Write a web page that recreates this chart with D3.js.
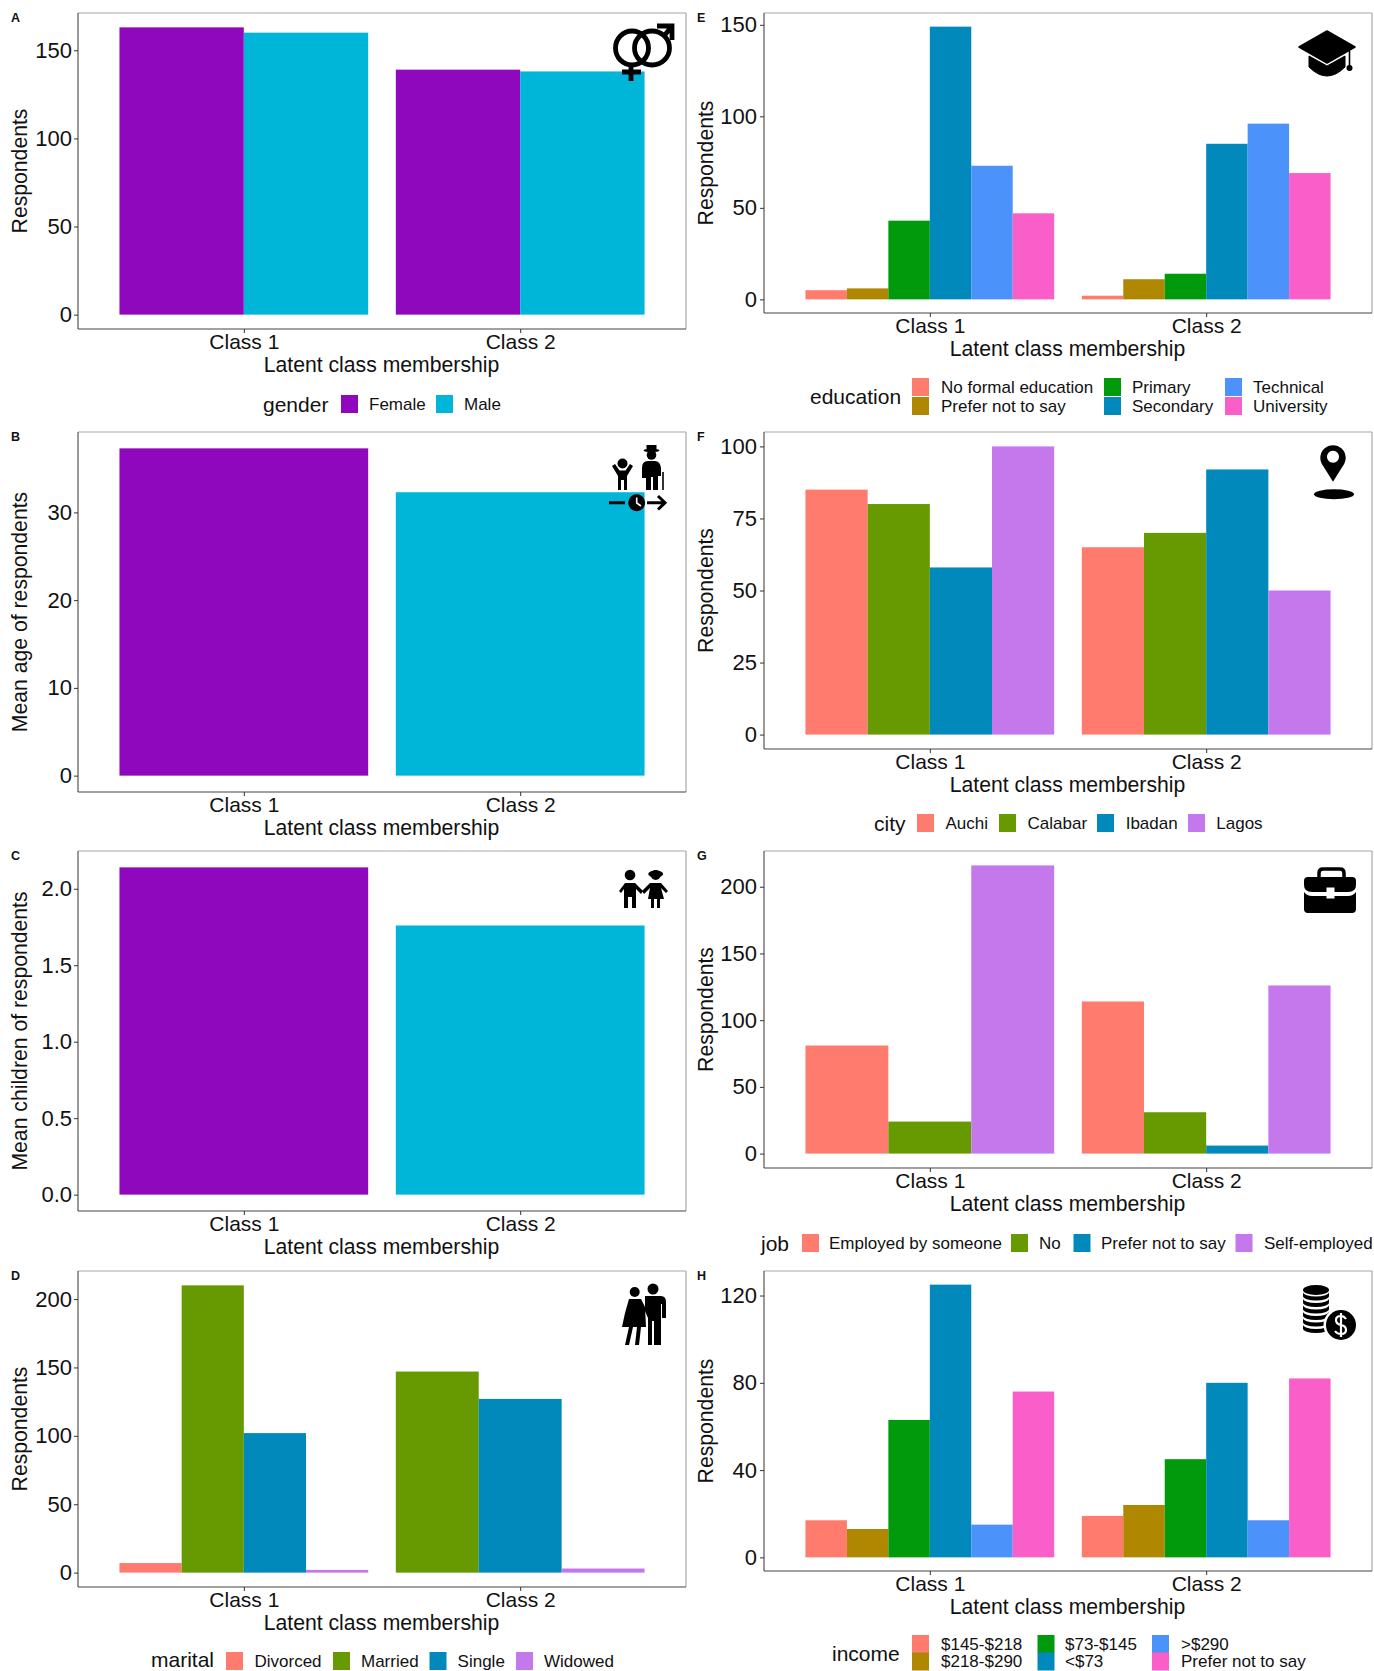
<!DOCTYPE html>
<html>
<head>
<meta charset="utf-8">
<script src="https://cdn.jsdelivr.net/npm/d3@7"></script>
<style>
  html, body { margin: 0; padding: 0; background: #fff; }
  svg { display: block; }
  text { font-family: "Liberation Sans", Arial, sans-serif; fill: #111; }
</style>
</head>
<body>
<div id="chart"></div>
<script>
const classes = ['Class 1', 'Class 2']

// two classes per category, null means the bar is not there at all
const genderCats = ['Female', 'Male']
const genderVals = [[163, 139], [160, 138]]

const ageCats = ['Class 1', 'Class 2']
const ageVals = [[37.3, null], [null, 32.3]]

const childCats = ['Class 1', 'Class 2']
const childVals = [[2.14, null], [null, 1.76]]

const maritalCats = ['Divorced', 'Married', 'Single', 'Widowed']
const maritalVals = [[7, null], [210, 147], [102, 127], [2, 3]]

const eduCats = ['No formal education', 'Prefer not to say', 'Primary', 'Secondary', 'Technical', 'University']
const eduVals = [[5, 2], [6, 11], [43, 14], [149, 85], [73, 96], [47, 69]]

const cityCats = ['Auchi', 'Calabar', 'Ibadan', 'Lagos']
const cityVals = [[85, 65], [80, 70], [58, 92], [100, 50]]

const jobCats = ['Employed by someone', 'No', 'Prefer not to say', 'Self-employed']
const jobVals = [[81, 114], [24, 31], [null, 6], [216, 126]]

const incomeCats = ['$145-$218', '$218-$290', '$73-$145', '<$73', '>$290', 'Prefer not to say']
const incomeVals = [[17, 19], [13, 24], [63, 45], [125, 80], [15, 17], [76, 82]]

const twoColors = ['#9008BE', '#00B6D8']
const fourColors = ['#FF7B6E', '#679900', '#0089BA', '#C478EC']
const sixColors = ['#FF7B6E', '#B08700', '#009A0C', '#0089BA', '#4C92FB', '#F95EC9']

const leftCol = [78, 686]
const rightCol = [764, 1372]

const panels = [
  { tag: 'A', col: leftCol, top: 13, bottom: 329, cats: genderCats, vals: genderVals, colors: twoColors,
    ticks: [0, 50, 100, 150], ylab: 'Respondents', icon: drawGender,
    legend: { title: 'gender', tx: 263, ty: 405, cy: 404, items: [[341, 369], [436, 464]] } },
  { tag: 'B', col: leftCol, top: 432, bottom: 792, cats: ageCats, vals: ageVals, colors: twoColors,
    ticks: [0, 10, 20, 30], ylab: 'Mean age of respondents', icon: drawAge, single: true },
  { tag: 'C', col: leftCol, top: 851, bottom: 1211, cats: childCats, vals: childVals, colors: twoColors,
    ticks: [0, 0.5, 1, 1.5, 2], fmt: d3.format('.1f'), ylab: 'Mean children of respondents', icon: drawKids, single: true },
  { tag: 'D', col: leftCol, top: 1271, bottom: 1587, cats: maritalCats, vals: maritalVals, colors: fourColors,
    ticks: [0, 50, 100, 150, 200], ylab: 'Respondents', icon: drawCouple,
    legend: { title: 'marital', tx: 151, ty: 1660, cy: 1661, items: [[226, 254.5], [333, 361], [429.5, 457.6], [516, 544]] } },
  { tag: 'E', col: rightCol, top: 13, bottom: 313, cats: eduCats, vals: eduVals, colors: sixColors,
    ticks: [0, 50, 100, 150], ylab: 'Respondents', icon: drawCap,
    legend: { title: 'education', tx: 810, ty: 397, rows: [387, 406], items: [[912, 941], [912, 941], [1104, 1132], [1104, 1132], [1225, 1253], [1225, 1253]] } },
  { tag: 'F', col: rightCol, top: 432, bottom: 749, cats: cityCats, vals: cityVals, colors: fourColors,
    ticks: [0, 25, 50, 75, 100], ylab: 'Respondents', icon: drawPin,
    legend: { title: 'city', tx: 874, ty: 824, cy: 823, items: [[917, 945.5], [999, 1027.6], [1097, 1125.7], [1188, 1216.3]] } },
  { tag: 'G', col: rightCol, top: 851, bottom: 1168, cats: jobCats, vals: jobVals, colors: fourColors,
    ticks: [0, 50, 100, 150, 200], ylab: 'Respondents', icon: drawCase,
    legend: { title: 'job', tx: 761, ty: 1244, cy: 1243, items: [[802, 829], [1011, 1039], [1073.5, 1101], [1235.5, 1264]] } },
  { tag: 'H', col: rightCol, top: 1271, bottom: 1571, cats: incomeCats, vals: incomeVals, colors: sixColors,
    ticks: [0, 40, 80, 120], ylab: 'Respondents', icon: drawCoins,
    legend: { title: 'income', tx: 832, ty: 1654, rows: [1644, 1661.5], items: [[912, 941], [912, 941], [1037.5, 1065], [1037.5, 1065], [1152, 1181], [1152, 1181]] } }
]

const svg = d3.select('#chart').append('svg')
  .attr('width', 1374)
  .attr('height', 1671)

panels.forEach(drawPanel)

function drawPanel (p) {
  const g = svg.append('g').attr('class', 'panel-' + p.tag)

  const x = d3.scalePoint().domain(classes).range(p.col).padding(0.6)
  const maxVal = d3.max(p.vals.flat())
  const y = d3.scaleLinear()
    .domain([-0.05 * maxVal, 1.05 * maxVal])
    .range([p.bottom, p.top])

  // bars, dodged inside each class. missing categories leave no gap
  classes.forEach((c, ci) => {
    const present = p.cats.filter((cat, i) => p.vals[i][ci] !== null)
    const half = 0.45 * x.step()
    const inner = d3.scaleBand().domain(present).range([x(c) - half, x(c) + half])
    g.selectAll('.bar' + ci)
      .data(present)
      .enter()
      .append('rect')
      .attr('class', 'bar' + ci)
      .attr('x', d => inner(d))
      .attr('width', inner.bandwidth())
      .attr('y', d => y(p.vals[p.cats.indexOf(d)][ci]))
      .attr('height', d => y(0) - y(p.vals[p.cats.indexOf(d)][ci]))
      .attr('fill', d => p.colors[p.cats.indexOf(d)])
  })

  // panel frame: faint top and right, dark left and bottom
  const frame = [
    [p.col[0], p.top, p.col[1], p.top, '#a8a8a8'],
    [p.col[1], p.top, p.col[1], p.bottom, '#a8a8a8'],
    [p.col[0], p.top, p.col[0], p.bottom, '#555'],
    [p.col[0], p.bottom, p.col[1], p.bottom, '#444']
  ]
  g.selectAll('.frame')
    .data(frame)
    .enter()
    .append('line')
    .attr('x1', d => d[0])
    .attr('y1', d => d[1])
    .attr('x2', d => d[2])
    .attr('y2', d => d[3])
    .attr('stroke', d => d[4])
    .attr('stroke-width', 1.2)

  const pad = p.col === rightCol ? 3 : 2
  const yAxis = d3.axisLeft(y).tickValues(p.ticks).tickSize(4).tickPadding(pad)
  if (p.fmt) yAxis.tickFormat(p.fmt)
  const yG = g.append('g')
    .attr('transform', 'translate(' + p.col[0] + ',0)')
    .call(yAxis)
  yG.select('.domain').remove()
  yG.selectAll('text').attr('font-size', 22).style('font-family', '"Liberation Sans", Arial, sans-serif')
  yG.selectAll('line').attr('stroke', '#333')

  const xAxis = d3.axisBottom(x).tickSize(4).tickPadding(1)
  const xG = g.append('g')
    .attr('transform', 'translate(0,' + p.bottom + ')')
    .call(xAxis)
  xG.select('.domain').remove()
  xG.selectAll('text').attr('font-size', 21).style('font-family', '"Liberation Sans", Arial, sans-serif')
  xG.selectAll('line').attr('stroke', '#333')

  g.append('text')
    .text('Latent class membership')
    .attr('x', (p.col[0] + p.col[1]) / 2 - 0.5)
    .attr('y', p.bottom + 36)
    .attr('dy', '0.35em')
    .attr('text-anchor', 'middle')
    .attr('font-size', 21.2)

  const yTitleX = p.col[0] - 58
  g.append('text')
    .text(p.ylab)
    .attr('transform', 'translate(' + yTitleX + ',' + (p.top + p.bottom) / 2 + ') rotate(-90)')
    .attr('dy', '0.35em')
    .attr('text-anchor', 'middle')
    .attr('font-size', 21.2)

  g.append('text')
    .text(p.tag)
    .attr('x', p.col[0] - 67)
    .attr('y', p.top + 9)
    .attr('font-size', 12.5)
    .attr('font-weight', 'bold')

  if (p.legend) drawLegend(g, p)

  const iconG = g.append('g')
  p.icon(iconG)
}

function drawLegend (g, p) {
  const l = p.legend
  g.append('text')
    .text(l.title)
    .attr('x', l.tx)
    .attr('y', l.ty)
    .attr('dy', '0.35em')
    .attr('font-size', 21)

  p.cats.forEach((cat, i) => {
    const rowY = l.rows ? l.rows[i % 2] : l.cy
    g.append('rect')
      .attr('x', l.items[i][0])
      .attr('y', rowY - 9)
      .attr('width', 17)
      .attr('height', 18)
      .attr('fill', p.colors[i])
    g.append('text')
      .text(cat)
      .attr('x', l.items[i][1])
      .attr('y', rowY)
      .attr('dy', '0.35em')
      .attr('font-size', 17)
  })
}

// ---- icons, drawn by hand in page coordinates ----

function drawGender (g) {
  const s = g.append('g').attr('fill', 'none').attr('stroke', '#000').attr('stroke-width', 4.8)
  s.append('ellipse').attr('cx', 632).attr('cy', 48).attr('rx', 16.5).attr('ry', 17)
  s.append('ellipse').attr('cx', 652).attr('cy', 48).attr('rx', 17.5).attr('ry', 17)
  s.append('path').attr('d', 'M631 65V81M622 72H641')
  s.append('path').attr('d', 'M664 36L672 26M657 26H672V40')
}

function drawAge (g) {
  g.append('g').attr('transform', 'translate(580,430)').html(
    '<circle cx="42.5" cy="33.5" r="5"/>' +
    '<path d="M32 36L35 34L39.5 40.5H45.5L50 34L53 36L47 46V60H44V50H41V60H38V46Z"/>' +
    '<circle cx="71.5" cy="25" r="4.8"/>' +
    '<ellipse cx="71.5" cy="20.5" rx="8" ry="1.6"/><rect x="66.5" y="15" width="10" height="5"/>' +
    '<path d="M62 38Q62 31 68 31H75Q80 31 81 38V46H78V60H73V47H71V60H66V48H62Z"/>' +
    '<path d="M83 42V60" stroke="#000" stroke-width="1.6"/>' +
    '<path d="M29 72.7H45M67 72.7H85M78 66L85 72.7L78 79.5" fill="none" stroke="#000" stroke-width="3"/>' +
    '<circle cx="56.7" cy="72.7" r="8.5"/>' +
    '<path d="M56.7 67.5V73L61 76" fill="none" stroke="#fff" stroke-width="1.6"/>'
  )
}

function drawKids (g) {
  g.append('g').attr('transform', 'translate(599,850)').html(
    '<circle cx="31" cy="25" r="5.3"/>' +
    '<path d="M20 41L26 33H36L44 41L42 44L37 39V58H33V47H29V58H25V39L22 43Z"/>' +
    '<circle cx="56.7" cy="25" r="5"/><ellipse cx="56.7" cy="24" rx="7.5" ry="3.5"/>' +
    '<path d="M43 41L51 33H62L69 41L67 43L62 38L65 49H61V58H58V49H55V58H52V49H49L51 38L45 44Z"/>'
  )
}

function drawCouple (g) {
  g.append('g').attr('transform', 'translate(599,1271)').html(
    '<circle cx="35.7" cy="21" r="5"/>' +
    '<path d="M30 28H42L46 36L47 56H23L26 42Z"/>' +
    '<path d="M30 56H34L30 74H26ZM38 56H42L40 74H36Z"/>' +
    '<circle cx="54" cy="18" r="5.5"/>' +
    '<path d="M46 25H62Q67 25 67 31V47H63V33H62V74H55V50H53V74H49V47L46 40Z"/>'
  )
}

function drawCap (g) {
  g.append('g').attr('transform', 'translate(1327,48)').html(
    '<path d="M0 -17L28 -1L0 15L-28 -1Z" stroke="#000" stroke-width="1.5" stroke-linejoin="round"/>' +
    '<path d="M-18 8L0 18L18 8V19Q0 37 -18 19Z" stroke="#000" stroke-width="1"/>' +
    '<path d="M22.5 3V19" stroke="#000" stroke-width="1.6"/>' +
    '<circle cx="22.5" cy="20" r="3"/>'
  )
}

function drawPin (g) {
  g.append('g').attr('transform', 'translate(1333,456.7)').html(
    '<path fill-rule="evenodd" d="M0 25L-10 9A12.7 12.7 0 1 1 10 9ZM0 -6A6 6 0 1 0 0.01 -6Z"/>' +
    '<ellipse cx="1" cy="37.5" rx="20" ry="5"/>'
  )
}

function drawCase (g) {
  g.append('g').attr('transform', 'translate(1304,868)').html(
    '<path d="M15 9V5Q15 1 19 1H36Q40 1 40 5V9" fill="none" stroke="#000" stroke-width="3.5"/>' +
    '<path d="M4 9H48Q52 9 52 13V17Q52 24 44 24H8Q0 24 0 17V13Q0 9 4 9Z"/>' +
    '<path d="M0 24Q3 28 8 28H44Q49 28 52 24V41Q52 45 48 45H4Q0 45 0 41Z"/>' +
    '<rect x="22.5" y="19.5" width="8" height="11" fill="#fff"/>'
  )
}

function drawCoins (g) {
  const coins = g.append('g').attr('transform', 'translate(1316,1270)')
  d3.range(0, 6).forEach(i => {
    coins.append('path')
      .attr('d', 'M-13 ' + (22 + i * 6.5) + 'A13 4.6 0 0 0 13 ' + (22 + i * 6.5) +
        'V' + (26 + i * 6.5) + 'A13 4.6 0 0 1 -13 ' + (26 + i * 6.5) + 'Z')
  })
  coins.append('ellipse').attr('cx', 0).attr('cy', 20).attr('rx', 13).attr('ry', 5)
  const dollar = g.append('g').attr('transform', 'translate(-1,0)')
  dollar.append('circle').attr('cx', 1342).attr('cy', 1325).attr('r', 17.5).attr('fill', '#fff')
  dollar.append('circle').attr('cx', 1342).attr('cy', 1325).attr('r', 15).attr('fill', '#000')
  dollar.append('path')
    .attr('d', 'M1347 1319Q1345 1316 1342 1316Q1337 1316 1337 1320Q1337 1324 1342 1325Q1347 1326 1347 1330Q1347 1334 1342 1334Q1338 1334 1336 1331M1342 1313V1337')
    .attr('fill', 'none')
    .attr('stroke', '#fff')
    .attr('stroke-width', 2.2)
}
</script>
</body>
</html>
